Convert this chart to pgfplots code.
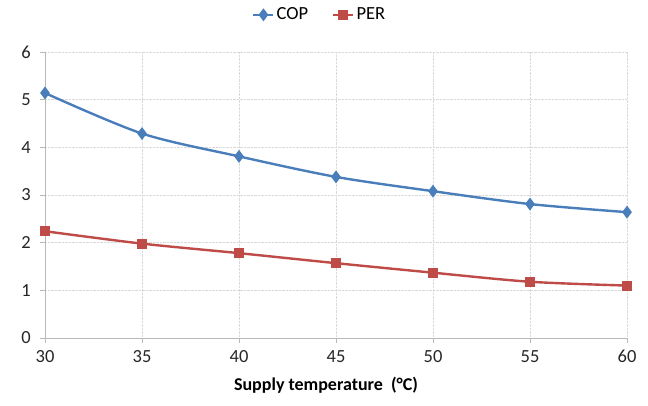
\documentclass[border=0pt]{standalone}
\usepackage{fontspec}
\setmainfont{Carlito}
\usepackage{pgfplots}
\pgfplotsset{compat=1.18}
\definecolor{copblue}{HTML}{4A7EBB}
\definecolor{perred}{HTML}{BE4B48}
\begin{document}
\fontsize{18}{21}\selectfont
\begin{tikzpicture}[x=1pt,y=1pt]
\path[use as bounding box] (0,0) rectangle (648,405);
\begin{axis}[
  at={(45pt,67pt)}, anchor=south west,
  scale only axis, width=582pt, height=286pt,
  xmin=30, xmax=60, ymin=0, ymax=6,
  xtick={30,35,...,60}, ytick={0,1,...,6},
  axis lines*=left,
  axis line style={gray!55, line width=0.8pt},
  tick style={gray!55, line width=0.8pt},
  tick align=outside, major tick length=5pt,
  grid=major,
  major grid style={gray!30, densely dotted, line width=0.8pt},
  /pgf/number format/assume math mode=true,
  ticklabel style={font=\fontsize{18.5}{21}\selectfont, text=black!85},
  xticklabel style={yshift=-1pt},
  yticklabel style={xshift=-3pt},
  xlabel={\textbf{Supply temperature\ \ (°C)}},
  xlabel style={font=\fontsize{18}{21}\selectfont, yshift=-2pt, xshift=-10pt},
  legend style={at={(0.472,1.13)}, anchor=center, legend columns=2, draw=none,
    font=\fontsize{18.5}{21}\selectfont,
    /tikz/every even column/.append style={column sep=22pt}},
  legend image code/.code={%
    \draw[mark repeat=2,mark phase=2,#1] plot coordinates {(0pt,0pt) (10pt,0pt) (20pt,0pt)};},
  legend cell align=left,
  clip=false,
]
\addplot[copblue, line width=2.4pt, smooth, tension=0.5, mark=diamond*, mark size=4.5pt, mark options={solid}]
coordinates {(30,5.14) (35,4.29) (40,3.81) (45,3.38) (50,3.08) (55,2.81) (60,2.64)};
\addlegendentry{COP}
\addplot[perred, line width=2.4pt, smooth, tension=0.5, mark=square*, mark size=3.8pt, mark options={solid}]
coordinates {(30,2.24) (35,1.98) (40,1.78) (45,1.57) (50,1.37) (55,1.18) (60,1.10)};
\addlegendentry{PER}
\end{axis}
\end{tikzpicture}
\end{document}
